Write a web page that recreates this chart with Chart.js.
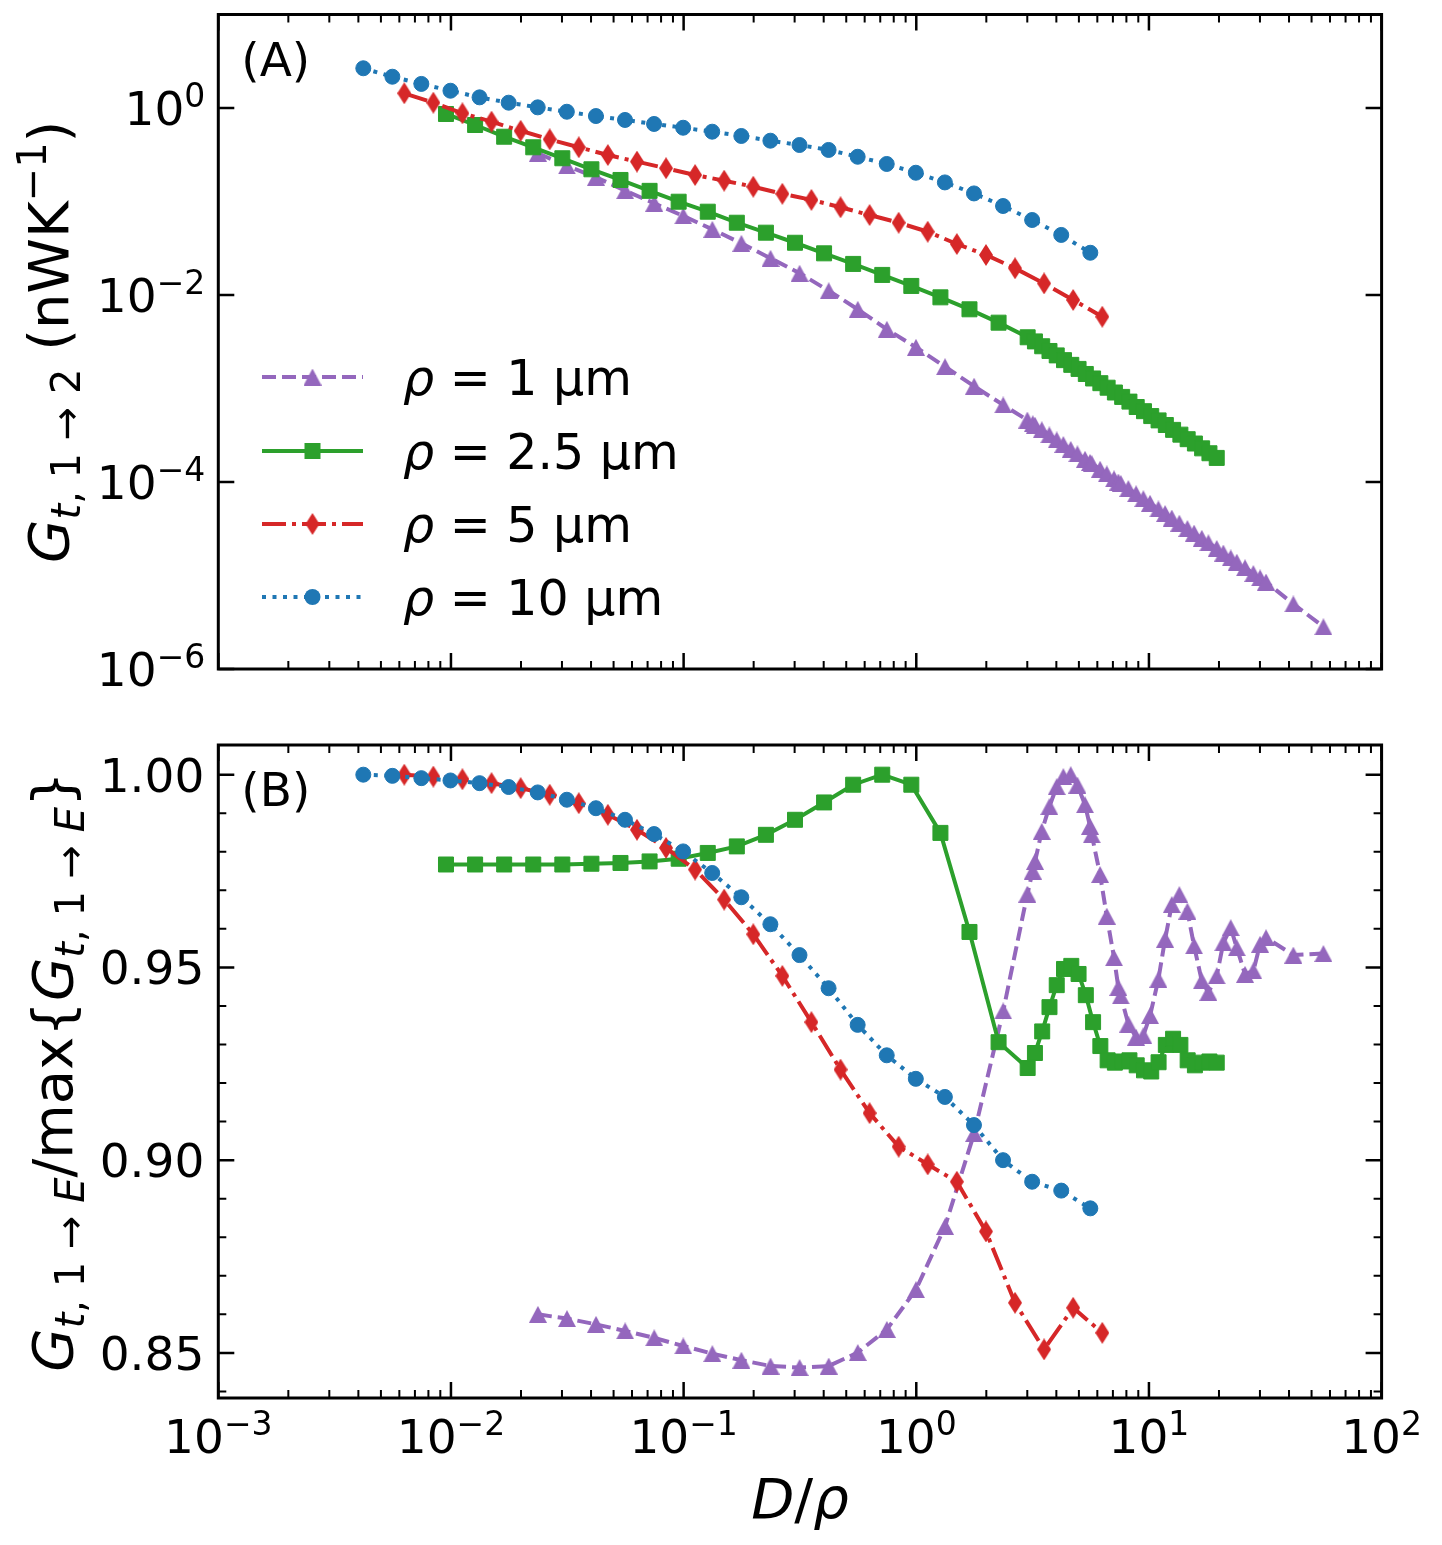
<!DOCTYPE html>
<html>
<head>
<meta charset="utf-8">
<script src="https://cdn.jsdelivr.net/npm/chart.js@4.4.1/dist/chart.umd.min.js"></script>
<style>
  body { margin: 0; background: #fff; }
  #wrap { position: relative; width: 1442px; height: 1545px; overflow: hidden; background: #fff; }
  canvas { position: absolute; left: 0; }
</style>
</head>
<body>
<div id="wrap">
  <canvas id="topChart" width="1442" height="700" style="top:0px"></canvas>
  <canvas id="botChart" width="1442" height="845" style="top:700px"></canvas>
</div>
<script>
// D/rho values and the two quantities per series

// rho = 1 um (purple, triangles)
const xRho1 = [0.02364, 0.03152, 0.04204, 0.05606, 0.07475, 0.09968, 0.1329, 0.1772, 0.2364, 0.3152,
  0.4204, 0.5606, 0.7475, 0.9968, 1.329, 1.772, 2.364,
  3.001, 3.167, 3.239, 3.462, 3.731, 4.015, 4.287, 4.612, 4.925, 5.313, 5.583, 5.678, 6.165, 6.588,
  7.080, 7.388, 7.566, 8.157, 8.805, 9.462, 10.11, 10.98, 11.73, 12.54, 13.51, 14.63, 15.63, 16.87,
  18.01, 19.56, 20.88, 22.47, 23.85, 25.89, 28.11, 30.04, 31.87, 41.76, 56.21];
const gRho1 = [0.328, 0.240, 0.1815, 0.1305, 0.0957, 0.0700, 0.0504, 0.0357, 0.0247, 0.0171,
  0.0111, 0.00703, 0.00430, 0.00276, 0.00171, 0.00106, 6.67e-4,
  4.60e-4, 4.20e-4, 4.05e-4, 3.62e-4, 3.19e-4, 2.82e-4, 2.52e-4, 2.23e-4, 2.00e-4, 1.75e-4, 1.62e-4,
  1.57e-4, 1.37e-4, 1.22e-4, 1.08e-4, 1.00e-4, 9.66e-5, 8.51e-5, 7.48e-5, 6.62e-5, 5.92e-5, 5.15e-5,
  4.60e-5, 4.12e-5, 3.63e-5, 3.18e-5, 2.84e-5, 2.50e-5, 2.24e-5, 1.95e-5, 1.74e-5, 1.54e-5, 1.39e-5,
  1.21e-5, 1.05e-5, 9.42e-6, 8.51e-6, 4.96e-6, 2.83e-6];
const nRho1 = [0.8600, 0.8589, 0.8574, 0.8557, 0.8539, 0.8518, 0.8498, 0.8481, 0.8466, 0.8462,
  0.8466, 0.8501, 0.8561, 0.8664, 0.8828, 0.9069, 0.9387,
  0.9690, 0.9750, 0.9775, 0.9853, 0.9917, 0.9969, 0.9995, 1.0000, 0.9973, 0.9922, 0.9866, 0.9844,
  0.9741, 0.9633, 0.9525, 0.9448, 0.9426, 0.9353, 0.9319, 0.9323, 0.9375, 0.9469, 0.9573, 0.9663,
  0.9689, 0.9646, 0.9556, 0.9465, 0.9435, 0.9478, 0.9564, 0.9603, 0.9551, 0.9482, 0.9491, 0.9560,
  0.9577, 0.9532, 0.9536];

// rho = 2.5 um (green, squares)
const xRho25 = [0.00952, 0.01270, 0.01693, 0.02258, 0.03011, 0.04015, 0.05354, 0.07140, 0.09521, 0.1270,
  0.1693, 0.2258, 0.3011, 0.4015, 0.5354, 0.7140, 0.9521, 1.270, 1.693, 2.258, 3.011,
  3.236, 3.477, 3.737, 4.015, 4.315, 4.637, 4.983, 5.354, 5.754, 6.183, 6.644, 7.140, 7.673, 8.245,
  8.860, 9.521, 10.23, 11.00, 11.82, 12.70, 13.65, 14.67, 15.76, 16.93, 18.20, 19.56];
const gRho25 = [0.863, 0.658, 0.493, 0.380, 0.290, 0.221, 0.170, 0.130, 0.0995, 0.0778,
  0.0593, 0.0464, 0.0362, 0.0279, 0.0215, 0.0164, 0.0125, 0.00944, 0.00703, 0.00506, 0.00353,
  3.19e-3, 2.83e-3, 2.52e-3, 2.26e-3, 2.01e-3, 1.79e-3, 1.62e-3, 1.43e-3, 1.28e-3, 1.14e-3, 1.02e-3,
  9.06e-4, 8.13e-4, 7.24e-4, 6.34e-4, 5.72e-4, 5.07e-4, 4.56e-4, 4.07e-4, 3.61e-4, 3.21e-4, 2.87e-4,
  2.58e-4, 2.29e-4, 2.03e-4, 1.81e-4];
const nRho25 = [0.9767, 0.9767, 0.9767, 0.9767, 0.9767, 0.9769, 0.9771, 0.9775, 0.9782, 0.9797,
  0.9814, 0.9844, 0.9883, 0.9928, 0.9974, 1.0000, 0.9974, 0.9849, 0.9592, 0.9306, 0.9239,
  0.9278, 0.9334, 0.9397, 0.9454, 0.9496, 0.9504, 0.9483, 0.9428, 0.9358, 0.9296, 0.9259, 0.9253,
  0.9256, 0.9259, 0.9246, 0.9233, 0.9230, 0.9254, 0.9299, 0.9315, 0.9299, 0.9259, 0.9246, 0.9253,
  0.9256, 0.9253];

// rho = 5 um (red, thin diamonds)
const xRho5 = [0.00630, 0.00840, 0.01120, 0.01494, 0.01993, 0.02657, 0.03543, 0.04725, 0.06301, 0.08402,
  0.1120, 0.1494, 0.1993, 0.2657, 0.3543, 0.4725, 0.6301, 0.8402, 1.120, 1.494, 1.993, 2.657,
  3.543, 4.725, 6.301];
const gRho5 = [1.436, 1.14, 0.877, 0.714, 0.571, 0.462, 0.380, 0.314, 0.267, 0.227,
  0.192, 0.167, 0.144, 0.121, 0.104, 0.0867, 0.0717, 0.0593, 0.0475, 0.0351, 0.0268, 0.0193,
  0.0133, 0.00885, 0.00586];
const nRho5 = [1.0000, 0.9995, 0.9988, 0.9978, 0.9965, 0.9948, 0.9926, 0.9896, 0.9857, 0.9810,
  0.9754, 0.9676, 0.9586, 0.9478, 0.9358, 0.9235, 0.9122, 0.9035, 0.8989, 0.8944, 0.8815, 0.8630,
  0.8509, 0.8617, 0.8552];

// rho = 10 um (blue, circles)
const xRho10 = [0.00420, 0.00560, 0.00746, 0.00995, 0.01327, 0.01770, 0.02360, 0.03148, 0.04198, 0.05598,
  0.07464, 0.09954, 0.1327, 0.1770, 0.2360, 0.3148, 0.4198, 0.5598, 0.7464, 0.9954, 1.327, 1.770,
  2.360, 3.148, 4.198, 5.598];
const gRho10 = [2.66, 2.16, 1.81, 1.53, 1.30, 1.14, 1.016, 0.912, 0.820, 0.745,
  0.675, 0.615, 0.558, 0.502, 0.447, 0.402, 0.356, 0.301, 0.252, 0.203, 0.160, 0.122,
  0.0895, 0.0634, 0.0439, 0.0283];
const nRho10 = [1.0000, 0.9997, 0.9991, 0.9985, 0.9978, 0.9968, 0.9954, 0.9935, 0.9913, 0.9883,
  0.9846, 0.9801, 0.9745, 0.9682, 0.9612, 0.9532, 0.9446, 0.9351, 0.9272, 0.9211, 0.9164, 0.9091,
  0.9000, 0.8944, 0.8921, 0.8875];

// axis ticks and labels
const xMajor = [1e-3, 1e-2, 1e-1, 1, 10, 100];
const xMajorExp = ['−3', '−2', '−1', '0', '1', '2'];
const gMajor = [1e-6, 1e-4, 1e-2, 1];
const gMajorExp = ['−6', '−4', '−2', '0'];
const nMajor = [0.85, 0.90, 0.95, 1.00];
const nMajorText = ['0.85', '0.90', '0.95', '1.00'];
const legendText = ['1', '2.5', '5', '10'];

const xMinor = [];
for (let e = -3; e < 2; e++) for (let m = 2; m < 10; m++) xMinor.push(m * Math.pow(10, e));
const nMinor = [];
for (let k = 84; k <= 100; k++) if (k % 5 !== 0) nMinor.push(k / 100);

const FONT = "'DejaVu Sans'";
const TICK = 47, SUPS = 33, LEG = 49, LAB = 56, LABS = 40;
const LW = 4;

function marker(w, h, color, path) {
  const c = document.createElement('canvas');
  c.width = w; c.height = h;
  const g = c.getContext('2d');
  g.fillStyle = color;
  g.beginPath(); path(g, w, h); g.closePath(); g.fill();
  return c;
}

const purple = '#9467bd', green = '#2ca02c', red = '#d62728', blue = '#1f77b4';
const triUp = marker(18, 17, purple, (g, w, h) => { g.moveTo(w / 2, 0); g.lineTo(w, h); g.lineTo(0, h); });
const thinDiamond = marker(14, 22, red, (g, w, h) => { g.moveTo(w / 2, 0); g.lineTo(w, h / 2); g.lineTo(w / 2, h); g.lineTo(0, h / 2); });

const series = [
  { label: legendText[0], xs: xRho1, g: gRho1, n: nRho1, color: purple, dash: [14, 6], style: triUp, radius: 8, order: 4 },
  { label: legendText[1], xs: xRho25, g: gRho25, n: nRho25, color: green, dash: [], style: 'rect', radius: 10.6, order: 3 },
  { label: legendText[2], xs: xRho5, g: gRho5, n: nRho5, color: red, dash: [24, 6, 4, 6], style: thinDiamond, radius: 8, order: 2 },
  { label: legendText[3], xs: xRho10, g: gRho10, n: nRho10, color: blue, dash: [4, 6.5], style: 'circle', radius: 7.5, order: 1 }
];

function datasets(key) {
  return series.map(s => ({
    label: s.label,
    data: s.xs.map((x, i) => ({ x: x, y: s[key][i] })),
    showLine: true,
    borderColor: s.color,
    borderWidth: LW,
    borderDash: s.dash,
    pointStyle: s.style,
    pointRadius: s.radius,
    pointBackgroundColor: s.color,
    pointBorderColor: s.color,
    pointBorderWidth: 1,
    fill: false,
    tension: 0,
    order: s.order
  }));
}

function font(size, italic) {
  return (italic ? 'italic ' : '') + size + 'px ' + FONT;
}

// draw a list of text runs [text, size, italic, dy] on one baseline
function drawRuns(ctx, parts, x, y, align) {
  let w = 0;
  parts.forEach(p => { ctx.font = font(p[1], p[2]); w += ctx.measureText(p[0]).width; });
  let cx = align === 'center' ? x - w / 2 : align === 'right' ? x - w : x;
  ctx.textAlign = 'left';
  ctx.textBaseline = 'alphabetic';
  parts.forEach(p => {
    ctx.font = font(p[1], p[2]);
    ctx.fillText(p[0], cx, y + (p[3] || 0));
    cx += ctx.measureText(p[0]).width;
  });
}

function powRuns(exp) {
  return [['10', TICK, false, 0], [exp, SUPS, false, -18]];
}

// subscript "t, 1 → X" as in the mathtext label
function subRuns(last, lastItalic) {
  const d = 12;
  return [['t', LABS, true, d], [',', LABS, false, d], [' 1 → ', LABS, false, d], [last, LABS, lastItalic, d]];
}

function drawFrame(chart, yMajor, yMinor) {
  const { ctx, chartArea: a } = chart;
  const xs = chart.scales.x, ys = chart.scales.y;
  ctx.save();
  ctx.strokeStyle = '#000';
  ctx.lineCap = 'butt';
  [[xMajor, 16, 2.5], [xMinor, 8, 2]].forEach(([vals, len, lw]) => {
    ctx.lineWidth = lw;
    ctx.beginPath();
    vals.forEach(v => {
      const px = xs.getPixelForValue(v);
      ctx.moveTo(px, a.bottom); ctx.lineTo(px, a.bottom - len);
      ctx.moveTo(px, a.top); ctx.lineTo(px, a.top + len);
    });
    ctx.stroke();
  });
  [[yMajor, 16, 2.5], [yMinor, 8, 2]].forEach(([vals, len, lw]) => {
    ctx.lineWidth = lw;
    ctx.beginPath();
    vals.forEach(v => {
      const py = ys.getPixelForValue(v);
      ctx.moveTo(a.left, py); ctx.lineTo(a.left + len, py);
      ctx.moveTo(a.right, py); ctx.lineTo(a.right - len, py);
    });
    ctx.stroke();
  });
  ctx.lineWidth = 3;
  ctx.strokeRect(a.left, a.top, a.right - a.left, a.bottom - a.top);
  ctx.restore();
}

const topDecor = {
  id: 'topDecor',
  afterDraw(chart) {
    const { ctx, chartArea: a } = chart;
    const ys = chart.scales.y;
    drawFrame(chart, gMajor, []);
    ctx.save();
    ctx.fillStyle = '#000';
    gMajor.forEach((v, i) => {
      drawRuns(ctx, powRuns(gMajorExp[i]), a.left - 13, ys.getPixelForValue(v) + 17, 'right');
    });
    drawRuns(ctx, [['(A)', TICK, false]], a.left + 23, a.top + 61, 'left');

    // legend
    const rows = [377, 451, 524, 597];
    series.forEach((s, i) => {
      const y = rows[i];
      ctx.strokeStyle = s.color;
      ctx.lineWidth = LW;
      ctx.setLineDash(s.dash);
      ctx.beginPath(); ctx.moveTo(262, y); ctx.lineTo(363, y); ctx.stroke();
      ctx.setLineDash([]);
      ctx.fillStyle = s.color;
      if (s.style === 'rect') {
        ctx.fillRect(312.5 - 8, y - 8, 16, 16);
      } else if (s.style === 'circle') {
        ctx.beginPath(); ctx.arc(312.5, y, 8, 0, Math.PI * 2); ctx.fill();
      } else {
        ctx.drawImage(s.style, 312.5 - s.style.width / 2, y - s.style.height / 2);
      }
      ctx.fillStyle = '#000';
      drawRuns(ctx, [['ρ', LEG, true], [' = ' + s.label + ' μm', LEG, false]], 403, y + 18, 'left');
    });

    // y axis title
    ctx.translate(68, (a.top + a.bottom) / 2);
    ctx.rotate(-Math.PI / 2);
    drawRuns(ctx, [['G', LAB, true]].concat(subRuns('2', false), [
      [' (nWK', LAB, false], ['−1', LABS, false, -22], [')', LAB, false]
    ]), 0, 0, 'center');
    ctx.restore();
  }
};

const botDecor = {
  id: 'botDecor',
  afterDraw(chart) {
    const { ctx, chartArea: a } = chart;
    const xs = chart.scales.x, ys = chart.scales.y;
    drawFrame(chart, nMajor, nMinor);
    ctx.save();
    ctx.fillStyle = '#000';
    nMajor.forEach((v, i) => {
      drawRuns(ctx, [[nMajorText[i], TICK, false]], a.left - 14, ys.getPixelForValue(v) + 17, 'right');
    });
    xMajor.forEach((v, i) => {
      drawRuns(ctx, powRuns(xMajorExp[i]), xs.getPixelForValue(v), a.bottom + 55, 'center');
    });
    drawRuns(ctx, [['(B)', TICK, false]], a.left + 23, a.top + 61, 'left');
    drawRuns(ctx, [['D', LAB, true], ['/', LAB, false], ['ρ', LAB, true]], (a.left + a.right) / 2, a.bottom + 120, 'center');

    ctx.translate(72, (a.top + a.bottom) / 2);
    ctx.rotate(-Math.PI / 2);
    drawRuns(ctx, [['G', LAB, true]].concat(subRuns('E', true), [
      ['/max', LAB, false], ['{', LAB, false], ['G', LAB, true]
    ], subRuns('E', true), [['}', LAB, false]]), 0, 0, 'center');
    ctx.restore();
  }
};

function makeChart(id, key, yScale, padding, decor) {
  return new Chart(document.getElementById(id), {
    type: 'scatter',
    data: { datasets: datasets(key) },
    options: {
      animation: false,
      responsive: false,
      events: [],
      layout: { padding: padding },
      plugins: { legend: { display: false }, tooltip: { enabled: false } },
      scales: {
        x: { type: 'logarithmic', display: false, min: 1e-3, max: 1e2 },
        y: yScale
      }
    },
    plugins: [decor]
  });
}

makeChart('topChart', 'g',
  { type: 'logarithmic', display: false, min: 1e-6, max: 10 },
  { left: 218.3, right: 60.4, top: 14.5, bottom: 31 }, topDecor);

makeChart('botChart', 'n',
  { type: 'linear', display: false, min: 0.8383, max: 1.0077 },
  { left: 218.3, right: 60.4, top: 45, bottom: 147 }, botDecor);
</script>
</body>
</html>
